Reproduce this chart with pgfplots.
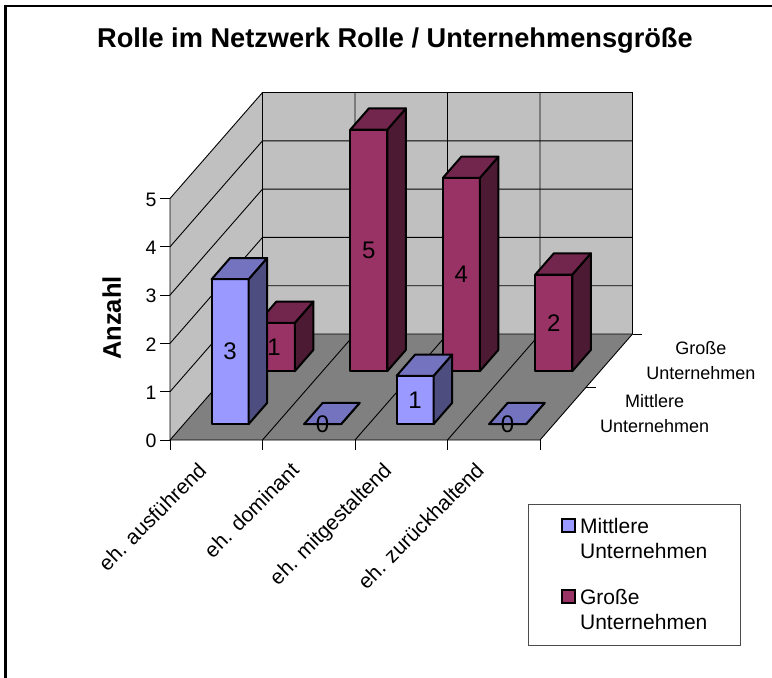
\documentclass[border=0pt]{standalone}
\usepackage{fontspec}
\setmainfont{Liberation Sans}
\usepackage{pgfplots}
\pgfplotsset{compat=1.18}
\definecolor{wall}{HTML}{C0C0C0}
\definecolor{floorc}{HTML}{808080}
\definecolor{mf}{HTML}{9999FF}
\definecolor{mt}{HTML}{7373BF}
\definecolor{ms}{HTML}{4D4D80}
\definecolor{gf}{HTML}{993366}
\definecolor{gt}{HTML}{73264D}
\definecolor{gs}{HTML}{4D1A33}
\newcommand{\Bar}[8]{%
\addplot3[forget plot,fill=#6,draw=black,line width=2pt,line join=round] coordinates {(#1,#3,0)(#2,#3,0)(#2,#3,#5)(#1,#3,#5)} -- cycle;
\addplot3[forget plot,fill=#7,draw=black,line width=2pt,line join=round] coordinates {(#2,#3,0)(#2,#4,0)(#2,#4,#5)(#2,#3,#5)} -- cycle;
\addplot3[forget plot,fill=#8,draw=black,line width=2pt,line join=round] coordinates {(#1,#3,#5)(#2,#3,#5)(#2,#4,#5)(#1,#4,#5)} -- cycle;
}
\newcommand{\Ln}[1]{\addplot3[forget plot,draw=black,line width=0.9pt] coordinates {#1};}
\begin{document}
\begin{tikzpicture}
\useasboundingbox (0,0) rectangle (772pt,-678pt);
\draw[line width=2.4pt,black] (5.3pt,-678pt) -- (5.3pt,-6pt) -- (772pt,-6pt);
\begin{axis}[
  at={(170pt,-440pt)},anchor=origin,
  x={(92.5pt,0pt)},y={(46.25pt,53pt)},z={(0pt,48.3pt)},
  xmin=0,xmax=4,ymin=0,ymax=2,zmin=0,zmax=5,
  clip=false,
  axis line style={draw=none},
  major tick length=0pt,
  tick style={draw=none},
  /pgf/number format/assume math mode=true,
  xtick={0.5,1.5,2.5,3.5},
  xticklabels={eh. ausführend,eh. dominant,eh. mitgestaltend,eh. zurückhaltend},
  xticklabel style={rotate=45,anchor=north east,inner sep=0pt,font=\fontsize{21}{24}\selectfont,xshift=-28.3pt,yshift=-1pt},
  ytick={0.5,1.5},
  yticklabels={Mittlere\\Unternehmen,Große\\Unternehmen},
  yticklabel style={align=center,font=\fontsize{18}{24.5}\selectfont,xshift=50pt,yshift=41.5pt},
  ztick={0,1,2,3,4,5},
  zticklabel style={font=\fontsize{19.5}{24}\selectfont,xshift=-10pt,yshift=3pt},
  title={Rolle im Netzwerk Rolle / Unternehmensgröße},
  title style={at={(axis cs:2.432,0,8.302)},anchor=center,yshift=-8pt,font=\fontsize{27.2}{30}\selectfont\bfseries},
  zlabel={Anzahl},
  zlabel style={at={(axis cs:-0.63,0,2.526)},rotate=0,anchor=center,font=\fontsize{25.5}{28}\selectfont\bfseries},
  legend style={at={(axis cs:3.867,0,-1.319)},anchor=north west,draw=black!70,line width=0.9pt,
    font=\fontsize{21}{25}\selectfont,inner xsep=33pt,inner ysep=12.5pt,row sep=25pt},
  legend image code/.code={\draw[#1,overlay] (0pt,7.5pt) rectangle (13pt,20.5pt); \path (0pt,0pt) (15pt,0pt);},
]
% walls and floor
\addplot3[forget plot,fill=wall,draw=none] coordinates {(0,2,0)(4,2,0)(4,2,5)(0,2,5)} -- cycle;
\addplot3[forget plot,fill=wall,draw=none] coordinates {(0,0,0)(0,2,0)(0,2,5)(0,0,5)} -- cycle;
\addplot3[forget plot,fill=floorc,draw=none] coordinates {(0,0,0)(4,0,0)(4,2,0)(0,2,0)} -- cycle;
% grid
\Ln{(0,0,0)(0,0,5)(0,2,5)(4,2,5)(4,2,0)}
\Ln{(0,2,0)(0,2,5)}
\Ln{(0,0,1)(0,2,1)(4,2,1)}
\Ln{(0,0,2)(0,2,2)(4,2,2)}
\Ln{(0,0,3)(0,2,3)(4,2,3)}
\Ln{(0,0,4)(0,2,4)(4,2,4)}
\Ln{(1,0,0)(1,2,0)(1,2,5)}
\Ln{(2,0,0)(2,2,0)(2,2,5)}
\Ln{(3,0,0)(3,2,0)(3,2,5)}
\Ln{(0,0,0)(0,2,0)(4,2,0)}
\Ln{(0,0,0)(4,0,0)(4,2,0)}
% tick marks
\Ln{(0,0,0)(0,0,-0.207)} \Ln{(1,0,0)(1,0,-0.207)} \Ln{(2,0,0)(2,0,-0.207)} \Ln{(3,0,0)(3,0,-0.207)} \Ln{(4,0,0)(4,0,-0.207)}
\Ln{(0,0,0)(-0.108,0,0)} \Ln{(0,0,1)(-0.108,0,1)} \Ln{(0,0,2)(-0.108,0,2)} \Ln{(0,0,3)(-0.108,0,3)} \Ln{(0,0,4)(-0.108,0,4)} \Ln{(0,0,5)(-0.108,0,5)}
\Ln{(4,1,0)(4.108,1,0)} \Ln{(4,2,0)(4.108,2,0)}
% Grosse Unternehmen
\Bar{0.3}{0.7}{1.3}{1.7}{1}{gf}{gs}{gt}
\Bar{1.3}{1.7}{1.3}{1.7}{5}{gf}{gs}{gt}
\Bar{2.3}{2.7}{1.3}{1.7}{4}{gf}{gs}{gt}
\Bar{3.3}{3.7}{1.3}{1.7}{2}{gf}{gs}{gt}
% Mittlere Unternehmen
\Bar{0.3}{0.7}{0.3}{0.7}{3}{mf}{ms}{mt}
\Bar{1.3}{1.7}{0.3}{0.7}{0}{mf}{ms}{mt}
\Bar{2.3}{2.7}{0.3}{0.7}{1}{mf}{ms}{mt}
\Bar{3.3}{3.7}{0.3}{0.7}{0}{mf}{ms}{mt}
% value labels
\begin{scope}[every node/.style={font=\fontsize{24}{26}\selectfont,inner sep=0pt}]
\node at (axis cs:0.475,1.3,0.5) {1};
\node at (axis cs:1.5,1.3,2.5) {5};
\node at (axis cs:2.5,1.3,2) {4};
\node at (axis cs:3.5,1.3,1) {2};
\node at (axis cs:0.5,0.3,1.5) {3};
\node at (axis cs:1.5,0.3,0) {0};
\node at (axis cs:2.5,0.3,0.5) {1};
\node at (axis cs:3.5,0.3,0) {0};
\end{scope}
\addlegendimage{fill=mf,draw=black,line width=2pt}
\addlegendentry{\parbox[b]{125pt}{Mittlere\\Unternehmen}}
\addlegendimage{fill=gf,draw=black,line width=2pt}
\addlegendentry{\parbox[b]{125pt}{Große\\Unternehmen}}
\end{axis}
\end{tikzpicture}
\end{document}
